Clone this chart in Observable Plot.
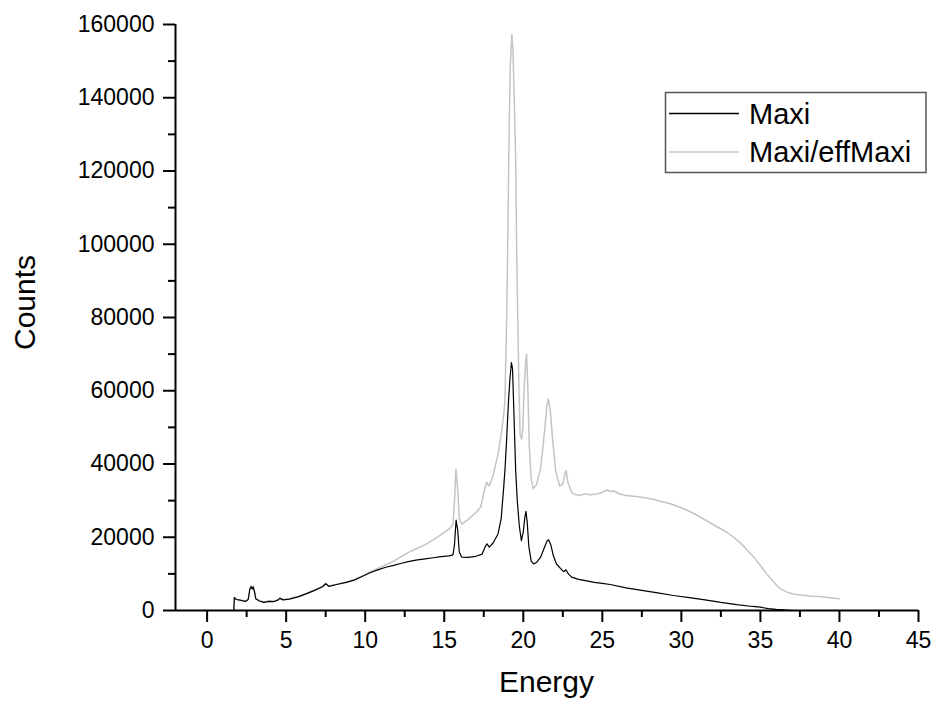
<!DOCTYPE html>
<html><head><meta charset="utf-8">
<script src="https://cdn.jsdelivr.net/npm/d3@7"></script>
<script src="https://cdn.jsdelivr.net/npm/@observablehq/plot@0.6"></script>
<style>body{margin:0;background:#fff}</style>
</head><body><div id="chart"></div>
<script>
const seriesNames = ["Maxi", "Maxi/effMaxi"];
const axisTitles = ["Energy", "Counts"];

const maxiEnergy = [1.69,1.72,1.85,2.0,2.2,2.45,2.6,2.7,2.78,2.85,2.92,3.0,3.08,3.3,3.6,3.9,4.2,4.5,4.6,4.8,5.2,5.8,6.3,6.8,7.3,7.5,7.7,8.2,8.8,9.3,9.8,10.3,10.8,11.3,11.8,12.3,12.8,13.3,13.8,14.3,14.8,15.3,15.55,15.65,15.75,15.85,15.95,16.1,16.5,17.0,17.4,17.6,17.7,17.85,18.1,18.4,18.6,18.75,18.85,18.95,19.05,19.15,19.25,19.32,19.42,19.52,19.62,19.75,19.88,20.0,20.1,20.17,20.25,20.35,20.5,20.65,20.85,21.1,21.3,21.5,21.6,21.75,21.9,22.1,22.35,22.55,22.7,22.85,23.06,23.5,24.0,24.5,25.0,25.5,26.5,27.5,28.5,29.5,30.5,31.5,32.5,33.5,34.5,35.0,35.5,36.0,36.5,37.0];
const maxiCounts = [0,3500,3000,2900,2700,2500,3000,5800,6500,5900,6400,5000,3200,2600,2200,2500,2400,2900,3300,2900,3100,3800,4600,5500,6500,7300,6600,7100,7700,8300,9300,10300,11100,11800,12300,12900,13400,13800,14100,14400,14700,14900,15200,18000,24700,22000,16000,14600,14500,14800,15400,17500,18200,17300,18500,20900,25000,33000,39000,47000,56000,63000,67700,66000,52000,38000,30000,23000,19100,21500,25500,27100,24000,17500,13500,12700,13200,14600,16800,19000,19300,17800,15000,12700,11500,10600,11100,10000,9100,8500,8100,7700,7400,7100,6200,5500,4800,4100,3500,2900,2200,1600,1100,900,500,300,150,0];

const effEnergy = [1.69,1.72,1.85,2.0,2.2,2.45,2.6,2.7,2.78,2.85,2.92,3.0,3.08,3.3,3.6,3.9,4.2,4.5,4.6,4.8,5.2,5.8,6.3,6.8,7.3,7.5,7.7,8.2,8.8,9.3,9.8,10.3,10.8,11.3,11.8,12.3,12.8,13.3,13.8,14.3,14.8,15.3,15.55,15.65,15.74,15.85,15.95,16.1,16.5,17.0,17.3,17.55,17.68,17.85,18.1,18.4,18.6,18.75,18.84,18.95,19.0,19.05,19.11,19.18,19.28,19.35,19.43,19.52,19.58,19.65,19.72,19.8,19.9,19.97,20.05,20.15,20.21,20.28,20.38,20.5,20.63,20.85,21.1,21.3,21.5,21.58,21.7,21.85,22.05,22.3,22.5,22.65,22.72,22.82,23.06,23.3,23.6,23.9,24.2,24.65,25.0,25.3,25.5,25.7,26.1,26.5,27.0,27.5,28.2,28.8,29.4,29.9,30.5,31.0,31.6,32.2,32.9,33.3,33.7,34.1,34.6,35.0,35.4,35.8,36.25,36.7,37.1,37.6,38.2,38.8,39.4,40.0];
const effCounts = [0,3600,3100,2900,2800,2600,3100,6000,6800,6100,6700,5200,3300,2700,2300,2600,2500,3000,3500,3000,3200,3900,4700,5600,6600,7400,6700,7200,7800,8400,9400,10500,11500,12500,13500,14800,16000,17000,18000,19300,20700,22200,23500,30000,38600,33000,25000,23600,24800,26700,28200,33000,35000,34000,37000,42700,48000,53000,57200,80000,95000,112000,132600,149000,157300,152600,139000,122700,99000,80000,62000,48000,46800,50000,60000,68000,70000,62000,45000,36000,33200,34500,39000,47000,56000,57700,55000,47000,38000,34000,34500,37500,38200,35000,32200,31700,31400,31900,31600,31800,32300,32900,32500,32700,31800,31400,31200,30900,30400,29700,29000,28200,27100,26000,24500,23000,21300,20000,18600,16800,14500,12300,10000,7900,5900,5000,4500,4200,3900,3800,3500,3200];

const xMajorTicks = [0,5,10,15,20,25,30,35,40,45];
const xMinorTicks = [2.5,7.5,12.5,17.5,22.5,27.5,32.5,37.5,42.5];
const yMajorTicks = [0,20000,40000,60000,80000,100000,120000,140000,160000];
const yMinorTicks = [10000,30000,50000,70000,90000,110000,130000,150000];
const xDomain = [-2, 45];
const yDomain = [0, 160000];

const maxi = maxiEnergy.map((e, i) => ({energy: e, counts: maxiCounts[i]}));
const eff = effEnergy.map((e, i) => ({energy: e, counts: effCounts[i]}));
const font = '"Liberation Sans", Arial, sans-serif';

const plot = Plot.plot({
  width: 933, height: 702,
  marginLeft: 175, marginRight: 15, marginTop: 24, marginBottom: 92,
  style: {fontFamily: font, fontSize: "23px", color: "#000", background: "#fff"},
  x: {domain: xDomain},
  y: {domain: yDomain},
  marks: [
    Plot.line(eff, {x: "energy", y: "counts", stroke: "#c4c4c4", strokeWidth: 1.5}),
    Plot.line(maxi, {x: "energy", y: "counts", stroke: "#000", strokeWidth: 1.2}),
    Plot.ruleY([yDomain[0]], {stroke: "#000", strokeWidth: 2}),
    Plot.ruleX([xDomain[0]], {stroke: "#000", strokeWidth: 2}),
    Plot.axisX(xMajorTicks, {tickSize: 12, tickPadding: 9, strokeWidth: 2, label: null, tickFormat: d => String(d)}),
    Plot.axisX(xMinorTicks, {tickSize: 7, strokeWidth: 2, label: null, tickFormat: () => ""}),
    Plot.axisY(yMajorTicks, {tickSize: 12, tickPadding: 9, strokeWidth: 2, label: null, tickFormat: d => String(d)}),
    Plot.axisY(yMinorTicks, {tickSize: 7, strokeWidth: 2, label: null, tickFormat: () => ""})
  ]
});
document.getElementById("chart").appendChild(plot);

const svg = d3.select(plot);
svg.append("text").attr("x", 546.5).attr("y", 692).attr("text-anchor", "middle")
  .attr("font-family", font).attr("font-size", 30).attr("fill", "#000").text(axisTitles[0]);
svg.append("text").attr("transform", "translate(35,302.5) rotate(-90)").attr("text-anchor", "middle")
  .attr("font-family", font).attr("font-size", 30).attr("fill", "#000").text(axisTitles[1]);

const lg = svg.append("g");
lg.append("rect").attr("x", 665.5).attr("y", 92.5).attr("width", 260.5).attr("height", 80)
  .attr("fill", "#fff").attr("stroke", "#555").attr("stroke-width", 1.5);
const legendColors = ["#000", "#c8c8c8"];
const legendY = [113.5, 152];
seriesNames.forEach((name, i) => {
  lg.append("line").attr("x1", 669).attr("x2", 739).attr("y1", legendY[i]).attr("y2", legendY[i])
    .attr("stroke", legendColors[i]).attr("stroke-width", 1.3);
  lg.append("text").attr("x", 749).attr("y", legendY[i] + 10).attr("text-anchor", "start")
    .attr("font-family", font).attr("font-size", 29).attr("fill", "#000").text(name);
});
</script>
</body></html>
